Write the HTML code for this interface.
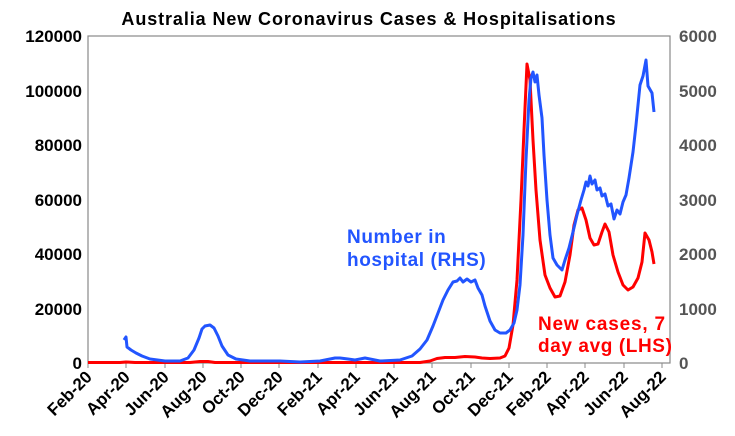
<!DOCTYPE html>
<html><head><meta charset="utf-8"><style>
body{margin:0;background:#fff;}
svg{display:block;font-family:"Liberation Sans",sans-serif;font-weight:bold;}
</style></head><body>
<svg width="735" height="436" viewBox="0 0 735 436">
<rect width="735" height="436" fill="#fff"/>
<text x="369" y="25" text-anchor="middle" font-size="18" letter-spacing="0.9" fill="#000">Australia New Coronavirus Cases &amp; Hospitalisations</text>
<rect x="88" y="36" width="582" height="327" fill="none" stroke="#888" stroke-width="1.2"/>
<g font-size="17" fill="#000" text-anchor="end">
<text x="82" y="42">120000</text><text x="82" y="97">100000</text><text x="82" y="151">80000</text>
<text x="82" y="206">60000</text><text x="82" y="260">40000</text><text x="82" y="315">20000</text><text x="82" y="369">0</text>
</g>
<g font-size="17" fill="#555" text-anchor="start">
<text x="679" y="42">6000</text><text x="679" y="97">5000</text><text x="679" y="151">4000</text>
<text x="679" y="206">3000</text><text x="679" y="260">2000</text><text x="679" y="315">1000</text><text x="679" y="369">0</text>
</g>
<g stroke="#888" stroke-width="1">
<line x1="88" y1="363" x2="88" y2="368"/><line x1="126" y1="363" x2="126" y2="368"/><line x1="165" y1="363" x2="165" y2="368"/><line x1="203" y1="363" x2="203" y2="368"/><line x1="241" y1="363" x2="241" y2="368"/><line x1="279" y1="363" x2="279" y2="368"/><line x1="318" y1="363" x2="318" y2="368"/><line x1="356" y1="363" x2="356" y2="368"/><line x1="394" y1="363" x2="394" y2="368"/><line x1="432" y1="363" x2="432" y2="368"/><line x1="471" y1="363" x2="471" y2="368"/><line x1="509" y1="363" x2="509" y2="368"/><line x1="547" y1="363" x2="547" y2="368"/><line x1="585" y1="363" x2="585" y2="368"/><line x1="624" y1="363" x2="624" y2="368"/><line x1="662" y1="363" x2="662" y2="368"/>
</g>
<g font-size="17" fill="#000" text-anchor="end">
<text transform="translate(93,378) rotate(-45)">Feb-20</text>
<text transform="translate(131,378) rotate(-45)">Apr-20</text>
<text transform="translate(170,378) rotate(-45)">Jun-20</text>
<text transform="translate(208,378) rotate(-45)">Aug-20</text>
<text transform="translate(246,378) rotate(-45)">Oct-20</text>
<text transform="translate(284,378) rotate(-45)">Dec-20</text>
<text transform="translate(323,378) rotate(-45)">Feb-21</text>
<text transform="translate(361,378) rotate(-45)">Apr-21</text>
<text transform="translate(399,378) rotate(-45)">Jun-21</text>
<text transform="translate(437,378) rotate(-45)">Aug-21</text>
<text transform="translate(476,378) rotate(-45)">Oct-21</text>
<text transform="translate(514,378) rotate(-45)">Dec-21</text>
<text transform="translate(552,378) rotate(-45)">Feb-22</text>
<text transform="translate(590,378) rotate(-45)">Apr-22</text>
<text transform="translate(629,378) rotate(-45)">Jun-22</text>
<text transform="translate(667,378) rotate(-45)">Aug-22</text>
</g>
<polyline fill="none" stroke="#f00" stroke-width="3" stroke-linejoin="round" points="88,362.5 120,362.5 126,362 135,362.5 190,362.5 200,361.5 208,361.5 215,362.5 300,362.5 420,362.5 430,361 437,358.5 445,357.5 455,357.5 465,356.5 475,357 482,358 490,358.5 500,358 505,356 509,348 513,325 517,280 521,200 524,130 527,64 530,80 533,140 536,190 540,240 545,275 550,288 555,297 560,296 565,282 570,255 574,225 578,210 582,208 586,220 590,238 594,245 598,244 602,232 605,224 609,232 613,255 618,272 623,285 628,290 633,287 638,278 642,262 645,233 649,240 652,252 654,264"/>
<polyline fill="none" stroke="#2255ff" stroke-width="3" stroke-linejoin="round" points="124,340 126,337 127,347 131,350 136,353 142,356 150,359 165,361 180,361 188,358 194,350 199,338 202,329 205,326 210,325 214,328 218,336 222,346 228,355 236,359 250,361 280,361 300,362 320,361 335,358 340,358 348,359 355,360 365,358 380,361 400,360 412,356 420,349 427,340 433,326 438,313 443,300 448,290 453,282 457,281 460,278 463,282 467,279 471,282 475,280 478,288 482,295 485,306 490,321 495,330 500,333 506,333 510,330 514,323 517,310 520,285 523,235 526,160 529,100 531,78 533,72 535,82 537,75 539,95 542,118 544,155 547,200 550,235 553,258 557,265 562,270 565,260 569,248 573,232 577,215 581,200 584,190 586,182 588,186 590,176 592,184 595,180 597,190 600,188 602,196 605,194 608,206 611,204 614,219 617,210 620,214 623,202 626,195 629,178 633,152 636,125 640,85 643,76 646,60 648,86 652,93 654,112"/>
<text x="347" y="243" font-size="19" fill="#2255ff" letter-spacing="0.6">Number in</text>
<text x="347" y="266" font-size="19" fill="#2255ff" letter-spacing="0.6">hospital (RHS)</text>
<text x="538" y="330" font-size="19" fill="#f00" letter-spacing="0.8">New cases, 7</text>
<text x="538" y="352" font-size="19" fill="#f00" letter-spacing="0.6">day avg (LHS)</text>
</svg>
</body></html>
